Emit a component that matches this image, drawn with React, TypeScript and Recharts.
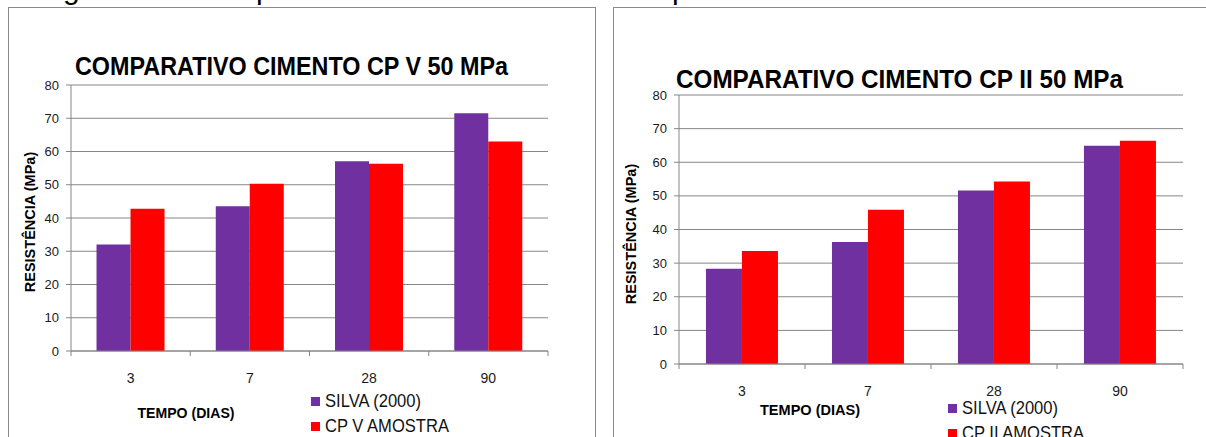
import React from "react";
import { BarChart, Bar, XAxis, YAxis, CartesianGrid, Legend } from "recharts";

// data (MPa per age in days)
const CATEGORIES = ["3", "7", "28", "90"];
const SILVA_CPV = [32.0, 43.5, 57.1, 71.5];
const AMOSTRA_CPV = [42.8, 50.3, 56.3, 63.0];
const SILVA_CPII = [28.3, 36.3, 51.6, 64.9];
const AMOSTRA_CPII = [33.6, 45.9, 54.3, 66.4];
const Y_TICKS = [0, 10, 20, 30, 40, 50, 60, 70, 80];
const SERIES_ORDER = ["silva", "amostra"];

const PURPLE = "#7030A0";
const RED = "#FF0000";
const GRID = "#868686";
const FONT = "'Liberation Sans', Arial, sans-serif";

const CategoryTick = (props: any) => {
  const { x, y, payload, index, visibleTicksCount, width } = props;
  const band = payload && payload.offset ? payload.offset * 2 : width / visibleTicksCount;
  const left = x - band / 2;
  return (
    <g>
      <line x1={left} y1={y} x2={left} y2={y + 5} stroke={GRID} />
      {index === visibleTicksCount - 1 && (
        <line x1={left + band} y1={y} x2={left + band} y2={y + 5} stroke={GRID} />
      )}
      <text
        x={x}
        y={y + 27}
        dy="0.35em"
        textAnchor="middle"
        fill="#1a1a1a"
        fontSize={14}
        fontFamily={FONT}
      >
        {payload.value}
      </text>
    </g>
  );
};

const LegendBox = ({ payload }: any) => {
  const items = [...(payload || [])].sort(
    (a: any, b: any) => SERIES_ORDER.indexOf(a.dataKey) - SERIES_ORDER.indexOf(b.dataKey)
  );
  return (
    <div style={{ fontFamily: FONT, fontSize: 18, color: "#111" }}>
      {items.map((e: any) => (
        <div key={e.value} style={{ height: 25, display: "flex", alignItems: "center" }}>
          <span style={{ width: 9, height: 9, background: e.color, marginRight: 5, flex: "none" }} />
          <span style={{ display: "inline-block", transform: "scaleX(0.92)", transformOrigin: "left", whiteSpace: "nowrap" }}>
            {e.value}
          </span>
        </div>
      ))}
    </div>
  );
};

interface ChartProps {
  silva: number[];
  amostra: number[];
  amostraName: string;
  left: number;
  margin: { top: number; right: number; bottom: number; left: number };
  yWidth: number;
  legendPos: { left: number; top: number };
}

function CementChart({ silva, amostra, amostraName, left, margin, yWidth, legendPos }: ChartProps) {
  const data = CATEGORIES.map((c, i) => ({ dias: c, silva: silva[i], amostra: amostra[i] }));
  return (
    <div style={{ position: "absolute", left, top: 0 }}>
      <BarChart width={600} height={437} data={data} margin={margin} barCategoryGap="21.4%" barGap={0}>
        <CartesianGrid vertical={false} stroke={GRID} />
        <XAxis
          dataKey="dias"
          height={30}
          tickSize={0}
          tickMargin={0}
          axisLine={{ stroke: GRID }}
          tick={<CategoryTick />}
          interval={0}
        />
        <YAxis
          width={yWidth}
          domain={[0, 80]}
          ticks={Y_TICKS}
          interval={0}
          tickSize={5}
          tickMargin={7}
          axisLine={{ stroke: GRID }}
          tickLine={{ stroke: GRID }}
          tick={{ fill: "#1a1a1a", fontSize: 13, fontFamily: FONT }}
        />
        <Legend
          content={<LegendBox />}
          layout="vertical"
          align="center"
          verticalAlign="middle"
          wrapperStyle={{ left: legendPos.left, top: legendPos.top, width: 220 }}
        />
        <Bar dataKey="silva" name="SILVA (2000)" fill={PURPLE} isAnimationActive={false} />
        <Bar dataKey="amostra" name={amostraName} fill={RED} isAnimationActive={false} />
      </BarChart>
    </div>
  );
}

export default function App() {
  const boldText = { fontFamily: FONT, fontWeight: 700, fill: "#000" } as const;
  return (
    <div style={{ position: "absolute", left: 0, top: 0, width: 1206, height: 437, overflow: "hidden", background: "#fff" }}>
      <svg width={1206} height={437} style={{ position: "absolute", left: 0, top: 0 }}>
        <rect x={8.5} y={7.5} width={587} height={470} fill="#fff" stroke="#8a8a8a" />
        <rect x={613.5} y={7.5} width={620} height={470} fill="#fff" stroke="#8a8a8a" />
      </svg>
      <CementChart
        silva={SILVA_CPV}
        amostra={AMOSTRA_CPV}
        amostraName="CP V AMOSTRA"
        left={0}
        margin={{ top: 85, right: 52, bottom: 56, left: 0 }}
        yWidth={71}
        legendPos={{ left: 311, top: 389 }}
      />
      <CementChart
        silva={SILVA_CPII}
        amostra={AMOSTRA_CPII}
        amostraName="CP II AMOSTRA"
        left={606}
        margin={{ top: 95, right: 23, bottom: 43, left: 0 }}
        yWidth={73}
        legendPos={{ left: 342, top: 396 }}
      />
      <svg width={1206} height={437} style={{ position: "absolute", left: 0, top: 0, pointerEvents: "none" }}>
        {/* bits of the caption line above, cut off by the crop */}
        <text x={63} y={-1} fontSize={30} fontFamily={FONT} fill="#000">g</text>
        <text x={256} y={-1} fontSize={30} fontFamily={FONT} fill="#000">p</text>
        <text x={672} y={-1} fontSize={30} fontFamily={FONT} fill="#000">p</text>

        <text x={75} y={75} fontSize={25} textLength={433} lengthAdjust="spacingAndGlyphs" {...boldText}>
          COMPARATIVO CIMENTO CP V 50 MPa
        </text>
        <text x={676} y={88} fontSize={25} textLength={447} lengthAdjust="spacingAndGlyphs" {...boldText}>
          COMPARATIVO CIMENTO CP II 50 MPa
        </text>

        <text x={30} y={222} fontSize={14.5} textAnchor="middle" dy="0.35em" transform="rotate(-90 30 222)" {...boldText}>
          RESISTÊNCIA (MPa)
        </text>
        <text x={631} y={234} fontSize={14.5} textAnchor="middle" dy="0.35em" transform="rotate(-90 631 234)" {...boldText}>
          RESISTÊNCIA (MPa)
        </text>

        <text x={186} y={413} fontSize={14} textAnchor="middle" dy="0.35em" textLength={97} lengthAdjust="spacingAndGlyphs" {...boldText}>
          TEMPO (DIAS)
        </text>
        <text x={810} y={410} fontSize={14} textAnchor="middle" dy="0.35em" textLength={100} lengthAdjust="spacingAndGlyphs" {...boldText}>
          TEMPO (DIAS)
        </text>
      </svg>
    </div>
  );
}
